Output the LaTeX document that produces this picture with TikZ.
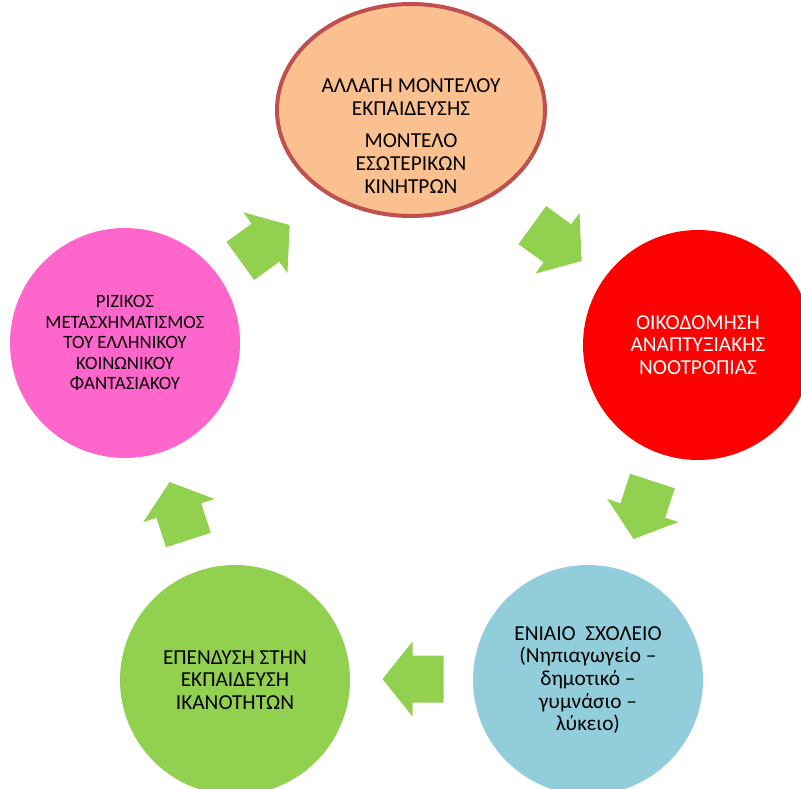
\documentclass[tikz,border=0pt]{standalone}
\usepackage{fontspec}
\setmainfont{Carlito}
\usetikzlibrary{shapes.geometric}

\definecolor{peach}{RGB}{250,192,144}
\definecolor{brick}{RGB}{192,80,77}
\definecolor{leaf}{RGB}{146,208,80}
\definecolor{sky}{RGB}{146,205,220}
\definecolor{rose}{RGB}{255,102,204}

\tikzset{every picture/.style={line width=0.75pt}}
\tikzset{
  bubble/.style={circle, minimum size=172.5pt, inner sep=0pt, align=center, font=\fontsize{16}{17}\selectfont},
  caption/.style={inner sep=0.75pt, align=center, font=\fontsize{16}{17}\selectfont},
  cyclearrow/.pic={\fill[leaf] (-30.5,-23.5) -- (0.5,-23.5) -- (0.5,-37.5) -- (30.5,0) -- (0.5,37.5) -- (0.5,23.5) -- (-30.5,23.5) -- cycle ;}
}

\begin{document}
\begin{tikzpicture}[x=0.75pt,y=0.75pt,yscale=-1,xscale=1]
\useasboundingbox (0,0) rectangle (801,789);
\clip (0,0) rectangle (801,789);

%Shape: Ellipse
\node [ellipse, draw=brick, line width=3pt, fill=peach, minimum width=201pt, minimum height=159pt] (model) at (411,110) {};
%Shape: Circle
\node [bubble, fill=red, text=white] (mindset) at (698,345) {ΟΙΚΟΔΟΜΗΣΗ\\ΑΝΑΠΤΥΞΙΑΚΗΣ\\ΝΟΟΤΡΟΠΙΑΣ};
%Shape: Circle
\node [bubble, fill=sky] (school) at (588,680) {ΕΝΙΑΙΟ\ \ ΣΧΟΛΕΙΟ\\(Νηπιαγωγείο –\\δημοτικό –\\γυμνάσιο –\\λύκειο)};
%Shape: Circle
\node [bubble, fill=leaf] (skills) at (235,680) {ΕΠΕΝΔΥΣΗ ΣΤΗΝ\\ΕΚΠΑΙΔΕΥΣΗ\\ΙΚΑΝΟΤΗΤΩΝ};
%Shape: Circle
\node [bubble, fill=rose, font=\fontsize{14.1}{15.4}\selectfont] (imaginary) at (125,343) {ΡΙΖΙΚΟΣ\\ΜΕΤΑΣΧΗΜΑΤΙΣΜΟΣ\\ΤΟΥ ΕΛΛΗΝΙΚΟΥ\\ΚΟΙΝΩΝΙΚΟΥ\\ΦΑΝΤΑΣΙΑΚΟΥ};

% Text Node
\node [caption] (modeltext) at (411,136) {ΑΛΛΑΓΗ ΜΟΝΤΕΛΟΥ\\ΕΚΠΑΙΔΕΥΣΗΣ\\[7.5pt]ΜΟΝΤΕΛΟ\\ΕΣΩΤΕΡΙΚΩΝ\\ΚΙΝΗΤΡΩΝ};

%Block Arrows
\pic [rotate=36] (arrowA) at (265,243) {cyclearrow};
\pic [rotate=-36] (arrowB) at (557,243) {cyclearrow};
\pic [rotate=-108] (arrowC) at (643,510) {cyclearrow};
\pic [rotate=180] (arrowD) at (413,679) {cyclearrow};
\pic [rotate=108] (arrowE) at (179,511) {cyclearrow};

\end{tikzpicture}
\end{document}
